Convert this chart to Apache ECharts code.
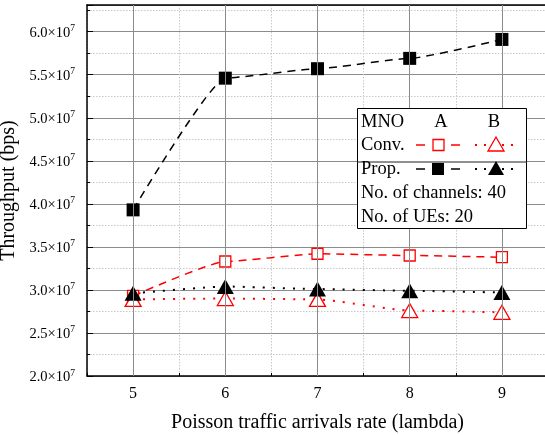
<!DOCTYPE html>
<html><head><meta charset="utf-8">
<script src="https://cdn.jsdelivr.net/npm/echarts@6/dist/echarts.min.js"></script>
<style>html,body{margin:0;padding:0;background:#fff}#c{width:545px;height:435px}</style>
</head><body><div id="c"></div>
<script>
const xValues = [5, 6, 7, 8, 9];
const xMajorTicks = [5, 6, 7, 8, 9];
const convA = [2.93e7, 3.33e7, 3.42e7, 3.40e7, 3.38e7];
const propA = [3.93e7, 5.46e7, 5.57e7, 5.69e7, 5.91e7];
const convB = [2.89e7, 2.90e7, 2.89e7, 2.76e7, 2.74e7];
const propB = [2.96e7, 3.04e7, 3.01e7, 2.99e7, 2.97e7];
const yMin = 2.0e7, yMax = 6.31e7, yStep = 0.5e7;
const xMin = 4.5, xMax = 9.5;

const FONT = 'Liberation Serif';
const LF = '18.5px "Liberation Serif"';
const RED = '#ff0000';
const pts = arr => xValues.map((x, i) => [x, arr[i]]);

const chart = echarts.init(document.getElementById('c'), null, {renderer: 'canvas'});
const option = {
  animation: false,
  backgroundColor: '#fff',
  grid: {left: 87, top: 5, right: -3, bottom: 59, show: false, containLabel: false, outerBoundsMode: 'none'},
  xAxis: [
    { type: 'value', min: xMin, max: xMax, interval: 0.5, position: 'bottom',
      axisLine: {show: true, onZero: false, lineStyle: {color: '#000', width: 1.5}},
      axisTick: {show: true, inside: true, length: 3, lineStyle: {color: '#000'}},
      axisLabel: {show: false},
      splitLine: {show: true, lineStyle: {color: '#c8c8c8', type: [1.5, 1.5], width: 1}} },
    { type: 'value', min: xMin, max: xMax, position: 'bottom',
      name: 'Poisson traffic arrivals rate (lambda)', nameLocation: 'middle', nameGap: 37,
      nameTextStyle: {fontFamily: FONT, fontSize: 20, color: '#000'},
      axisLine: {show: false},
      axisTick: {show: true, inside: true, length: 6, customValues: xMajorTicks, lineStyle: {color: '#000'}},
      axisLabel: {show: true, customValues: xMajorTicks, margin: 10, fontFamily: FONT, fontSize: 16, color: '#000'},
      splitLine: {show: false} },
    { type: 'value', min: xMin, max: xMax, position: 'top',
      axisLine: {show: true, onZero: false, lineStyle: {color: '#000', width: 1.5}},
      axisTick: {show: true, inside: true, length: 5, customValues: xMajorTicks, lineStyle: {color: '#000'}},
      axisLabel: {show: false}, splitLine: {show: false} }
  ],
  yAxis: [{
    type: 'value', min: yMin, max: yMax, interval: yStep,
    name: 'Throughput (bps)', nameLocation: 'middle', nameGap: 60, nameRotate: 90,
    nameTextStyle: {fontFamily: FONT, fontSize: 20, color: '#000'},
    axisLine: {show: true, onZero: false, lineStyle: {color: '#000', width: 1.5}},
    axisTick: {show: true, inside: true, length: 6, lineStyle: {color: '#000'}},
    minorTick: {show: true, splitNumber: 2, length: 3, lineStyle: {color: '#000'}},
    minorSplitLine: {show: true, lineStyle: {color: '#c8c8c8', type: [1.5, 1.5], width: 1}},
    splitLine: {show: true, lineStyle: {color: '#8c8c8c', width: 1}},
    axisLabel: {
      showMaxLabel: false, margin: 12,
      formatter: v => (Math.abs(v / yStep - Math.round(v / yStep)) > 1e-6) ? '' : '{m|' + (v / 1e7).toFixed(1) + '×10}{s|7}',
      rich: {
        m: {fontFamily: FONT, fontSize: 14.5, color: '#000', verticalAlign: 'bottom', lineHeight: 18},
        s: {fontFamily: FONT, fontSize: 9.5, color: '#000', verticalAlign: 'bottom', lineHeight: 18, padding: [0, 0, 7, 0]}
      }
    }
  }],
  series: [
    { type: 'line', name: 'grid', data: [], z: 1, silent: true,
      markLine: { silent: true, symbol: 'none', label: {show: false},
        lineStyle: {color: '#8c8c8c', type: 'solid', width: 1},
        data: xMajorTicks.map(v => ({xAxis: v})) } },
    { type: 'line', name: 'Conv. A', data: pts(convA), smooth: 0.15, smoothMonotone: 'x', z: 3,
      symbol: 'rect', symbolSize: 11,
      itemStyle: {color: '#fff', borderColor: RED, borderWidth: 1.3},
      lineStyle: {color: RED, width: 1.5, type: [8, 6]} },
    { type: 'line', name: 'Conv. B', data: pts(convB), smooth: 0.15, smoothMonotone: 'x', z: 3,
      symbol: 'triangle', symbolSize: [16, 14],
      itemStyle: {color: '#fff', borderColor: RED, borderWidth: 1.3},
      lineStyle: {color: RED, width: 2, type: [2, 8]} },
    { type: 'line', name: 'Prop. A', data: pts(propA), smooth: 0.15, smoothMonotone: 'x', z: 4,
      symbol: 'rect', symbolSize: 13,
      itemStyle: {color: '#000', borderColor: '#000', borderWidth: 0},
      lineStyle: {color: '#000', width: 1.5, type: [8, 6]} },
    { type: 'line', name: 'Prop. B', data: pts(propB), smooth: 0.15, smoothMonotone: 'x', z: 4,
      symbol: 'triangle', symbolSize: [17, 15],
      itemStyle: {color: '#000', borderColor: '#000', borderWidth: 0},
      lineStyle: {color: '#000', width: 2, type: [2, 8]} }
  ],
  graphic: [
    {type: 'rect', z: 100, shape: {x: 357.5, y: 108.5, width: 169, height: 120},
     style: {fill: '#fff', stroke: '#000', lineWidth: 1}},
    {type: 'line', z: 101, shape: {x1: 357, y1: 162, x2: 527, y2: 162}, style: {stroke: '#222', lineWidth: 1.2}},
    {type: 'text', z: 101, x: 361, y: 122, style: {text: 'MNO', font: LF, fill: '#000', verticalAlign: 'middle'}},
    {type: 'text', z: 101, x: 441, y: 122, style: {text: 'A', font: LF, fill: '#000', align: 'center', verticalAlign: 'middle'}},
    {type: 'text', z: 101, x: 494, y: 122, style: {text: 'B', font: LF, fill: '#000', align: 'center', verticalAlign: 'middle'}},
    {type: 'text', z: 101, x: 361, y: 145, style: {text: 'Conv.', font: LF, fill: '#000', verticalAlign: 'middle'}},
    {type: 'text', z: 101, x: 361, y: 169, style: {text: 'Prop.', font: LF, fill: '#000', verticalAlign: 'middle'}},
    {type: 'text', z: 101, x: 361, y: 193, style: {text: 'No. of channels: 40', font: LF, fill: '#000', verticalAlign: 'middle'}},
    {type: 'text', z: 101, x: 361, y: 217, style: {text: 'No. of UEs: 20', font: LF, fill: '#000', verticalAlign: 'middle'}},
    {type: 'line', z: 101, shape: {x1: 416, y1: 145, x2: 425, y2: 145}, style: {stroke: RED, lineWidth: 1.5}},
    {type: 'line', z: 101, shape: {x1: 451, y1: 145, x2: 460, y2: 145}, style: {stroke: RED, lineWidth: 1.5}},
    {type: 'rect', z: 102, shape: {x: 433, y: 139.5, width: 11, height: 11}, style: {fill: '#fff', stroke: RED, lineWidth: 1.3}},
    {type: 'line', z: 101, shape: {x1: 475, y1: 145, x2: 520, y2: 145}, style: {stroke: RED, lineWidth: 2, lineDash: [2, 7]}},
    {type: 'polygon', z: 102, shape: {points: [[496, 137], [504, 151], [488, 151]]}, style: {fill: '#fff', stroke: RED, lineWidth: 1.3}},
    {type: 'line', z: 101, shape: {x1: 416, y1: 169, x2: 425, y2: 169}, style: {stroke: '#000', lineWidth: 1.5}},
    {type: 'line', z: 101, shape: {x1: 451, y1: 169, x2: 460, y2: 169}, style: {stroke: '#000', lineWidth: 1.5}},
    {type: 'rect', z: 102, shape: {x: 432, y: 163, width: 12, height: 12}, style: {fill: '#000'}},
    {type: 'line', z: 101, shape: {x1: 475, y1: 169, x2: 520, y2: 169}, style: {stroke: '#000', lineWidth: 2, lineDash: [2, 7]}},
    {type: 'polygon', z: 102, shape: {points: [[496, 161], [504, 175], [488, 175]]}, style: {fill: '#000'}}
  ]
};
chart.setOption(option);
</script></body></html>
